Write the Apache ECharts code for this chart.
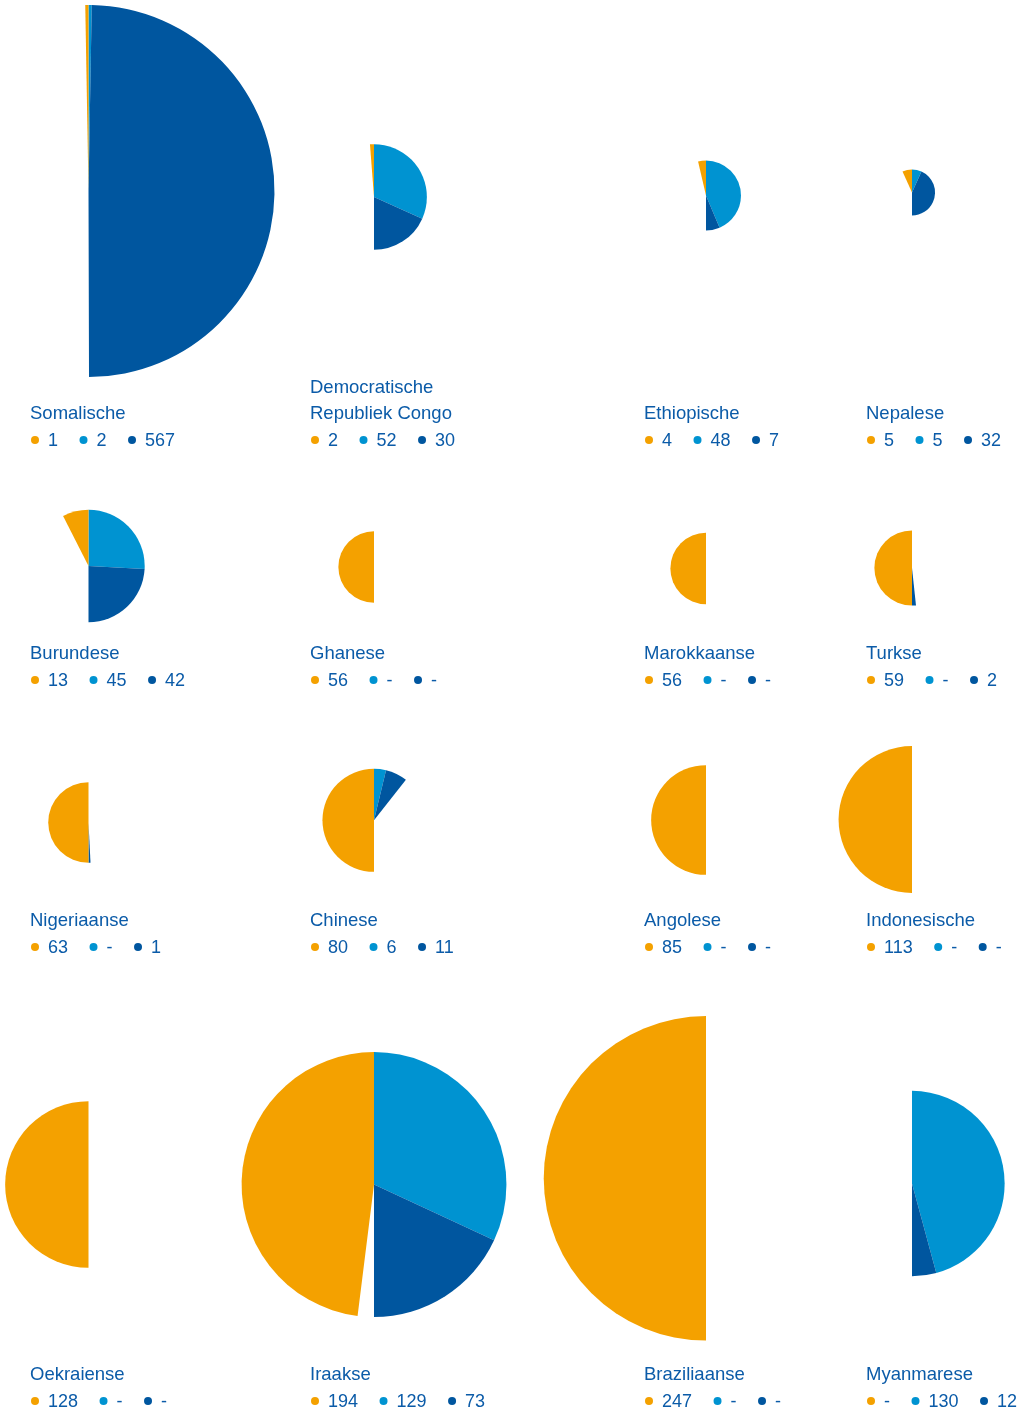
<!DOCTYPE html>
<html>
<head>
<meta charset="utf-8">
<script src="https://cdn.jsdelivr.net/npm/echarts@6/dist/echarts.min.js"></script>
<style>
html,body{margin:0;padding:0;background:#ffffff;}
#chart{width:1031px;height:1411px;}
</style>
</head>
<body>
<div id="chart"></div>
<script>
// ---- data ----
const categories = ['Somalische', 'Democratische\nRepubliek Congo', 'Ethiopische', 'Nepalese',
  'Burundese', 'Ghanese', 'Marokkaanse', 'Turkse',
  'Nigeriaanse', 'Chinese', 'Angolese', 'Indonesische',
  'Oekraiense', 'Iraakse', 'Braziliaanse', 'Myanmarese'];
const orangeValues    = [1, 2, 4, 5, 13, 56, 56, 59, 63, 80, 85, 113, 128, 194, 247, null];
const lightBlueValues = [2, 52, 48, 5, 45, null, null, null, null, 6, null, null, null, 129, null, 130];
const darkBlueValues  = [567, 30, 7, 32, 42, null, null, 2, 1, 11, null, null, null, 73, null, 12];

// ---- layout / style ----
const COLORS = { orange: '#f4a100', light: '#0093d1', dark: '#00569f', text: '#0b5ba8' };
const colX = [88.5, 374, 706, 912];
const textX = [30, 310, 644, 866];
const centerY = [
  [191, 197, 195.5, 192.5],
  [566, 567, 568.5, 568],
  [822.5, 820.3, 820, 819.5],
  [1184.5, 1184.5, 1178.3, 1183.5]
];
const nameY = [413.5, 653.5, 920.5, 1374.5];
const legendY = [441, 681, 948, 1402];
const R_SCALE = 0.663, R_OFF = -1.5, R_MAX = 186;
const NAME_FONT = '18.5px "Liberation Sans", Arial, sans-serif';
const NUM_FONT = '18px "Liberation Sans", Arial, sans-serif';

const measureCtx = document.createElement('canvas').getContext('2d');
function textWidth(str, font) { measureCtx.font = font; return measureCtx.measureText(str).width; }

const TRANSPARENT = { color: 'rgba(0,0,0,0)' };
const series = [];
const graphic = [];

categories.forEach(function (name, i) {
  const row = Math.floor(i / 4), col = i % 4;
  const o = orangeValues[i] || 0;
  const b1 = lightBlueValues[i] || 0;
  const b2 = darkBlueValues[i] || 0;
  const M = Math.max(o, b1 + b2);
  const r = Math.min(R_MAX, R_SCALE * M + R_OFF);
  let data;
  if (lightBlueValues[i] != null) {
    data = [
      { value: b1, itemStyle: { color: COLORS.light } },
      { value: b2, itemStyle: { color: COLORS.dark } },
      { value: M - b1 - b2, itemStyle: TRANSPARENT },
      { value: M - o, itemStyle: TRANSPARENT },
      { value: o, itemStyle: { color: COLORS.orange } }
    ];
  } else {
    data = [
      { value: M - b2, itemStyle: TRANSPARENT },
      { value: b2, itemStyle: { color: COLORS.dark } },
      { value: M - o, itemStyle: TRANSPARENT },
      { value: o, itemStyle: { color: COLORS.orange } }
    ];
  }
  data = data.filter(function (d) { return d.value > 0; });
  series.push({
    type: 'pie',
    silent: true,
    animation: false,
    clockwise: true,
    startAngle: 90,
    minAngle: 1,
    avoidLabelOverlap: false,
    center: [colX[col], centerY[row][col]],
    radius: [0, r],
    label: { show: false },
    labelLine: { show: false },
    emphasis: { disabled: true },
    itemStyle: { borderWidth: 0 },
    data: data
  });

  // name
  graphic.push({
    type: 'text',
    silent: true,
    x: textX[col],
    y: nameY[row] + 13,
    style: {
      text: name,
      fill: COLORS.text,
      font: NAME_FONT,
      lineHeight: 26,
      textAlign: 'left', align: 'left',
      textVerticalAlign: 'bottom', verticalAlign: 'bottom'
    }
  });

  // legend
  const vals = [orangeValues[i], lightBlueValues[i], darkBlueValues[i]];
  const cols = [COLORS.orange, COLORS.light, COLORS.dark];
  let dotX = textX[col] + 5;
  const ly = legendY[row];
  vals.forEach(function (v, k) {
    const str = v == null ? '-' : String(v);
    graphic.push({
      type: 'circle', silent: true,
      shape: { cx: dotX, cy: ly - 1, r: 4 },
      style: { fill: cols[k] }
    });
    const tx = dotX + 13;
    graphic.push({
      type: 'text', silent: true,
      x: tx, y: ly,
      style: {
        text: str, fill: COLORS.text, font: NUM_FONT,
        textAlign: 'left', align: 'left',
        textVerticalAlign: 'middle', verticalAlign: 'middle'
      }
    });
    dotX = tx + textWidth(str, NUM_FONT) + 25.5;
  });
});

const chart = echarts.init(document.getElementById('chart'), null, { renderer: 'canvas' });
chart.setOption({
  animation: false,
  backgroundColor: '#ffffff',
  series: series,
  graphic: graphic
});
</script>
</body>
</html>
